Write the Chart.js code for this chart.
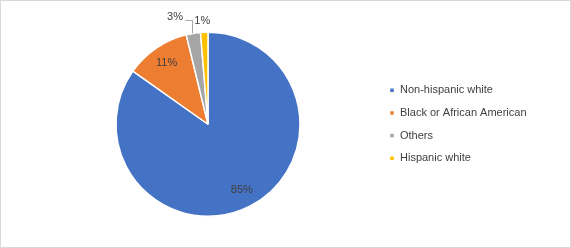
<!DOCTYPE html>
<html><head><meta charset="utf-8">
<script src="https://cdn.jsdelivr.net/npm/chart.js@4.4.0/dist/chart.umd.min.js"></script>
<style>
html,body{margin:0;padding:0;background:#fff;}
#wrap{position:relative;width:571px;height:248px;box-sizing:border-box;border:1px solid #D9D9D9;background:#fff;}
canvas{display:block;}
</style></head><body>
<div id="wrap"><canvas id="c" width="569" height="246"></canvas></div>
<script>
const categories = ["Non-hispanic white", "Black or African American", "Others", "Hispanic white"];
const values = [84.8, 11.4, 2.5, 1.3];
const valueLabels = ["85%", "11%", "3%", "1%"];
const colors = ["#4472C4", "#ED7D31", "#A5A5A5", "#FFC000"];

const total = values.reduce((a, b) => a + b, 0);
const FONT = '"Liberation Sans", Arial, sans-serif';
const LEGEND_WIDTH = 160;

const fixLegendWidth = {
  id: 'fixLegendWidth',
  afterInit(chart) {
    const lg = chart.legend;
    if (!lg) return;
    const orig = lg.fit.bind(lg);
    lg.fit = function () { orig(); this.width = LEGEND_WIDTH; };
  }
};

const labelPlugin = {
  id: 'pieLabels',
  afterDatasetsDraw(chart) {
    const ctx = chart.ctx;
    const meta = chart.getDatasetMeta(0);
    ctx.save();
    ctx.font = '11px ' + FONT;
    ctx.fillStyle = '#404040';
    ctx.textBaseline = 'middle';
    meta.data.forEach((arc, i) => {
      const p = arc.getProps(['x', 'y', 'startAngle', 'endAngle', 'outerRadius'], true);
      const mid = (p.startAngle + p.endAngle) / 2;
      const frac = values[i] / total;
      if (frac >= 0.05) {
        const r = p.outerRadius * 0.8;
        ctx.textAlign = 'center';
        ctx.fillText(valueLabels[i], p.x + Math.cos(mid) * r, p.y + Math.sin(mid) * r);
      } else {
        const px = p.x + Math.cos(mid) * p.outerRadius;
        const py = p.y + Math.sin(mid) * p.outerRadius;
        const crowded = i + 1 < values.length && values[i + 1] / total < 0.05;
        if (crowded) {
          const lx = Math.round(px - 1) + 0.5, ly = Math.round(py - 13.5) + 0.5;
          ctx.strokeStyle = '#A6A6A6';
          ctx.lineWidth = 1;
          ctx.beginPath();
          ctx.moveTo(lx, py);
          ctx.lineTo(lx, ly);
          ctx.lineTo(lx - 7, ly);
          ctx.stroke();
          ctx.textAlign = 'right';
          ctx.fillText(valueLabels[i], lx - 9.5, ly - 4);
        } else {
          ctx.textAlign = 'center';
          ctx.fillText(valueLabels[i], px - 2, py - 11.5);
        }
      }
    });
    ctx.restore();
  }
};

new Chart(document.getElementById('c'), {
  type: 'pie',
  data: {
    labels: categories,
    datasets: [{
      data: values,
      backgroundColor: colors,
      borderColor: '#FFFFFF',
      borderWidth: 1.5
    }]
  },
  options: {
    responsive: false,
    animation: false,
    events: [],
    layout: { padding: { left: 37.2, right: 569 - 376.8 - LEGEND_WIDTH, top: 30.5, bottom: 30 } },
    plugins: {
      tooltip: { enabled: false },
      legend: {
        position: 'right',
        align: 'center',
        labels: {
          boxWidth: 5,
          boxHeight: 5,
          padding: 11.7,
          color: '#404040',
          font: { family: FONT, size: 11 }
        }
      }
    }
  },
  plugins: [fixLegendWidth, labelPlugin]
});
</script>
</body></html>
